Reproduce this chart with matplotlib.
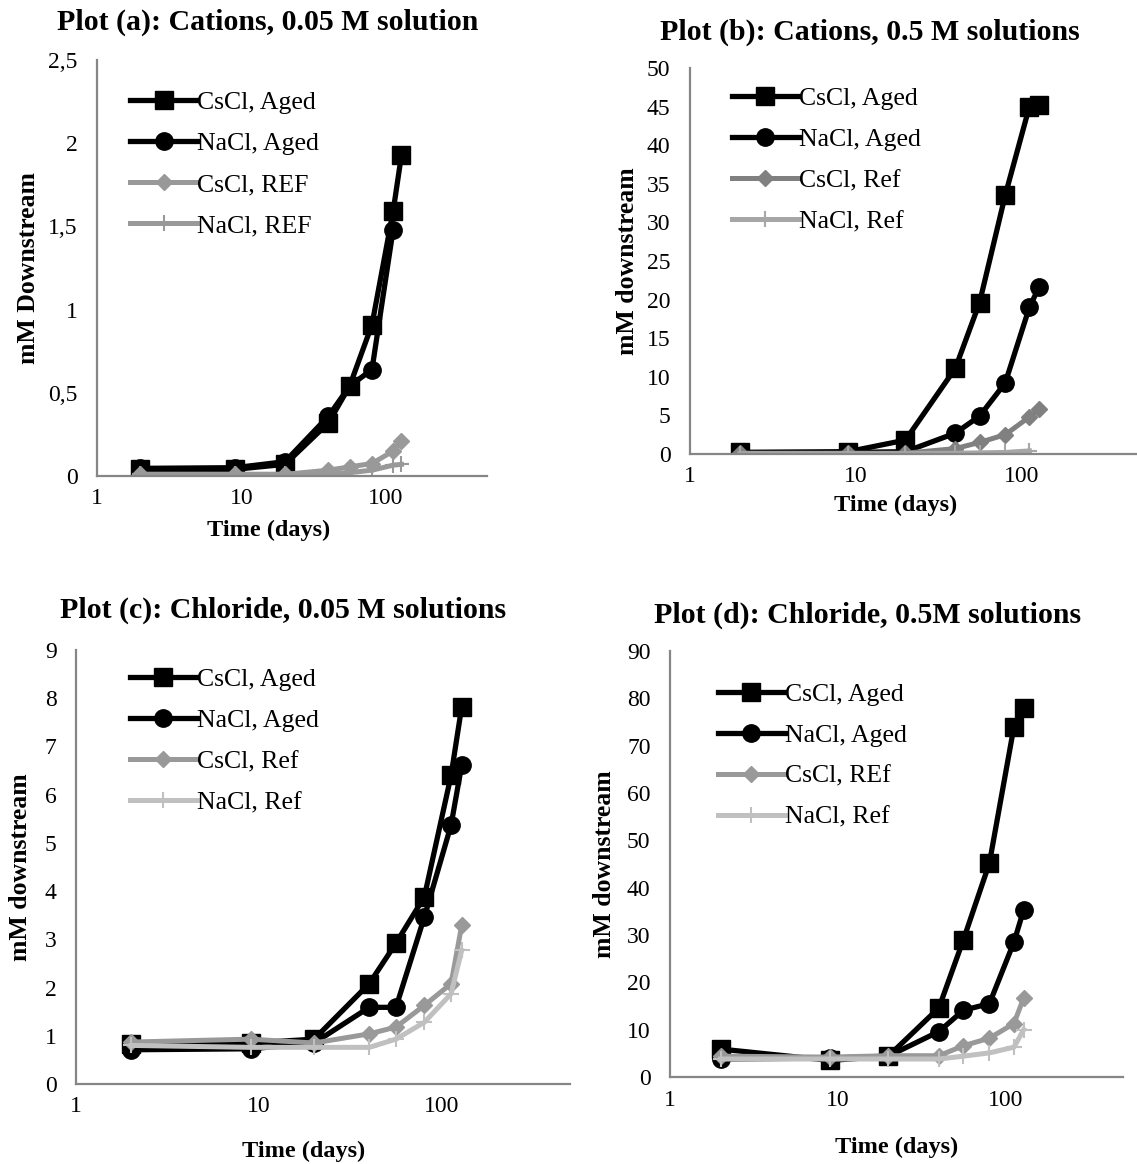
import matplotlib
matplotlib.use("Agg")
import matplotlib.pyplot as plt
from matplotlib.ticker import FixedLocator, FuncFormatter

plt.rcParams["font.family"] = ["Liberation Serif", "DejaVu Serif"]

days = [2, 9, 20, 40, 56, 80, 112, 128]

# plot (a): cations, 0.05 M
a_cscl_aged = [0.04, 0.04, 0.07, 0.32, 0.54, 0.91, 1.59, 1.93]
a_nacl_aged = [0.046, 0.05, 0.086, 0.36, 0.54, 0.64, 1.48]
a_cscl_ref = [0.01, 0.01, 0.01, 0.035, 0.055, 0.075, 0.15, 0.21]
a_nacl_ref = [0.01, 0.01, 0.01, 0.015, 0.02, 0.035, 0.065, 0.07]

# plot (b): cations, 0.5 M
b_cscl_aged = [0.2, 0.3, 1.8, 11.1, 19.6, 33.5, 45.0, 45.2]
b_nacl_aged = [0.2, 0.2, 0.3, 2.7, 4.9, 9.2, 19.0, 21.6]
b_cscl_ref = [0.1, 0.1, 0.1, 0.7, 1.5, 2.5, 4.8, 5.8]
b_nacl_ref = [0.05, 0.05, 0.05, 0.1, 0.15, 0.2, 0.4]

# plot (c): chloride, 0.05 M
c_cscl_aged = [0.83, 0.85, 0.93, 2.08, 2.92, 3.88, 6.4, 7.82]
c_nacl_aged = [0.71, 0.73, 0.85, 1.59, 1.59, 3.46, 5.37, 6.61]
c_cscl_ref = [0.87, 0.93, 0.85, 1.04, 1.18, 1.63, 2.08, 3.29]
c_nacl_ref = [0.8, 0.76, 0.76, 0.76, 0.93, 1.28, 1.87, 2.77]

# plot (d): chloride, 0.5 M
d_cscl_aged = [5.9, 3.5, 4.4, 14.6, 29.0, 45.2, 74.0, 78.0]
d_nacl_aged = [3.8, 4.0, 4.4, 9.6, 14.1, 15.5, 28.5, 35.3]
d_cscl_ref = [4.4, 4.2, 4.5, 4.5, 6.6, 8.2, 11.3, 16.7]
d_nacl_ref = [3.8, 3.8, 3.8, 3.8, 4.4, 5.1, 6.3, 10.0]

W, H = 1137, 1164
fig = plt.figure(figsize=(W / 100, H / 100), dpi=100)


def px_axes(left, right, top, bottom):
    return fig.add_axes([left / W, 1 - bottom / H, (right - left) / W, (bottom - top) / H])


def draw(ax, series, labels, ref_colors, ymax, ystep, comma, ylabel, legend_xy,
         ylab_x, xlab_xy):
    ax.plot(days[:len(series[0])], series[0], color="black", marker="s", ms=12.5, lw=3.8,
            label=labels[0])
    ax.plot(days[:len(series[1])], series[1], color="black", marker="o", ms=12.5, lw=3.8,
            label=labels[1])
    ax.plot(days[:len(series[2])], series[2], color=ref_colors[0], marker="D", ms=8.5, lw=3.6,
            label=labels[2])
    ax.plot(days[:len(series[3])], series[3], color=ref_colors[1], marker="+", ms=12, mew=1.5,
            lw=3.6, label=labels[3])
    ax.set_xscale("log")
    ax.set_xlim(1, 500)
    ax.set_ylim(0, ymax)
    ax.xaxis.set_major_locator(FixedLocator([1, 10, 100]))
    ax.xaxis.set_minor_locator(FixedLocator([]))
    ax.xaxis.set_major_formatter(FuncFormatter(lambda v, p: f"{v:g}"))
    yt = [i * ystep for i in range(int(round(ymax / ystep)) + 1)]
    ax.yaxis.set_major_locator(FixedLocator(yt))
    if comma:
        ax.yaxis.set_major_formatter(FuncFormatter(lambda v, p: f"{v:g}".replace(".", ",")))
    else:
        ax.yaxis.set_major_formatter(FuncFormatter(lambda v, p: f"{v:g}"))
    for s in ("top", "right"):
        ax.spines[s].set_visible(False)
    for s in ("left", "bottom"):
        ax.spines[s].set_color("#868686")
        ax.spines[s].set_linewidth(1.6)
    ax.tick_params(axis="both", length=0, labelsize=17)
    ax.tick_params(axis="x", pad=9)
    ax.tick_params(axis="y", pad=14)
    ax.set_ylabel(ylabel, fontsize=18.5, fontweight="bold")
    ax.yaxis.set_label_coords(ylab_x, 0.5)
    ax.set_xlabel("Time (days)", fontsize=17.5, fontweight="bold")
    ax.xaxis.set_label_coords(*xlab_xy)
    ax.legend(loc="upper left", bbox_to_anchor=legend_xy, frameon=False, fontsize=18.5,
              handlelength=2.6, handletextpad=0.0, labelspacing=0.7, borderpad=0,
              borderaxespad=0)


ax_a = px_axes(97, 487, 60, 476)
draw(ax_a, [a_cscl_aged, a_nacl_aged, a_cscl_ref, a_nacl_ref],
     ["CsCl, Aged", "NaCl, Aged", "CsCl, REF", "NaCl, REF"],
     ["#999999", "#999999"], 2.5, 0.5, True, "mM Downstream", (0.085, 0.925),
     -0.145, (0.44, -0.105))

ax_b = px_axes(690, 1137, 68, 454)
draw(ax_b, [b_cscl_aged, b_nacl_aged, b_cscl_ref, b_nacl_ref],
     ["CsCl, Aged", "NaCl, Aged", "CsCl, Ref", "NaCl, Ref"],
     ["#808080", "#a6a6a6"], 50, 5, False, "mM downstream", (0.094, 0.95),
     -0.115, (0.46, -0.105))

ax_c = px_axes(76, 570, 650, 1084)
draw(ax_c, [c_cscl_aged, c_nacl_aged, c_cscl_ref, c_nacl_ref],
     ["CsCl, Aged", "NaCl, Aged", "CsCl, Ref", "NaCl, Ref"],
     ["#999999", "#c0c0c0"], 9, 1, False, "mM downstream", (0.109, 0.958),
     -0.09, (0.46, -0.13))

ax_d = px_axes(670, 1123, 651, 1077)
draw(ax_d, [d_cscl_aged, d_nacl_aged, d_cscl_ref, d_nacl_ref],
     ["CsCl, Aged", "NaCl, Aged", "CsCl, REf", "NaCl, Ref"],
     ["#999999", "#c0c0c0"], 90, 10, False, "mM downstream", (0.106, 0.925),
     -0.12, (0.50, -0.14))

titles = [
    ("Plot (a): Cations, 0.05 M solution", 268, 22),
    ("Plot (b): Cations, 0.5 M solutions", 870, 32),
    ("Plot (c): Chloride, 0.05 M solutions", 283, 610),
    ("Plot (d): Chloride, 0.5M solutions", 868, 615),
]
for text, x, y in titles:
    fig.text(x / W, 1 - y / H, text, ha="center", va="center", fontsize=21.5,
             fontweight="bold")

fig.savefig("out.png", dpi=100)
